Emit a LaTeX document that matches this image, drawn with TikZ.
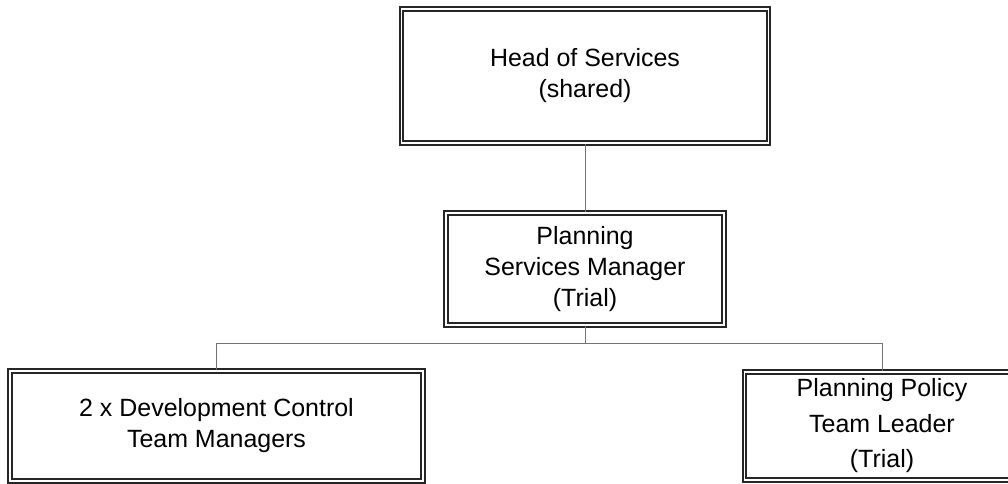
\documentclass[tikz,border=0pt]{standalone}
\usepackage{fontspec}
\setmainfont{Liberation Sans}

\begin{document}
\begin{tikzpicture}[
        post/.style={draw=black!85, double, double distance=1.1pt, line width=0.9pt,
            align=center, inner sep=0pt, font=\fontsize{14.2}{17.6}\selectfont},
        link/.style={draw=black!55, line width=0.5pt}]
        \clip (0,0) rectangle (20.16,9.66);

        \node[post, minimum width=7.34cm, minimum height=2.68cm] (head) at (11.7,8.14) {Head of Services\\(shared)};
        \node[post, minimum width=5.56cm, minimum height=2.24cm] (mgr) at (11.7,4.28) {Planning\\Services Manager\\(Trial)};
        \node[post, minimum width=8.26cm, minimum height=2.2cm] (devc) at (4.33,1.14) {2 x Development Control\\Team Managers};
        \node[post, minimum width=5.5cm, minimum height=2.16cm, font=\fontsize{14.2}{20.2}\selectfont] (policy) at (17.64,1.14) {Planning Policy\\Team Leader\\(Trial)};

        \draw[link] (head.south) -- (mgr.north);
        \draw[link] (mgr.south) -- ++(0,-0.36) coordinate (bar);
        \draw[link] (devc.north) |- (bar) -| (policy.north);
    \end{tikzpicture}
\end{document}
